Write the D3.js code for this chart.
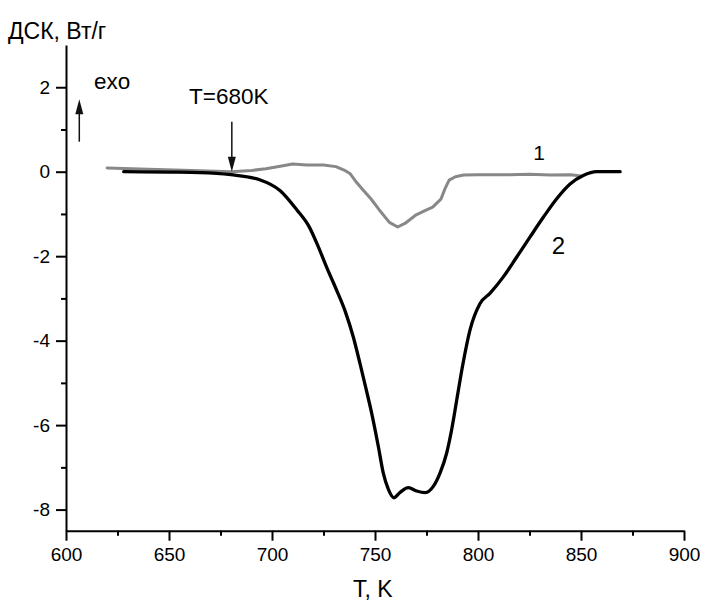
<!DOCTYPE html>
<html><head><meta charset="utf-8">
<script src="https://cdn.jsdelivr.net/npm/d3@7"></script>
<style>
html,body{margin:0;padding:0;background:#fff;}
svg{display:block;font-family:"Liberation Sans",Arial,Helvetica,sans-serif;}
</style></head>
<body>
<svg id="c" width="702" height="601"></svg>
<script>
// ---- data ----
const xMajorTicks = [600, 650, 700, 750, 800, 850, 900];
const xMinorTicks = [625, 675, 725, 775, 825, 875];
const yMajorTicks = [-8, -6, -4, -2, 0, 2];
const yMinorTicks = [-7, -5, -3, -1, 1];

const T1 = [620,640,665,680,690,697,704,710,717,725,731,735,738,741,744,748,752,757,761,765,770,774,778,782,784,786,789,793,800,815,825,835,845,850];
const dsc1 = [0.09,0.06,0.02,0.0,0.03,0.07,0.13,0.18,0.16,0.16,0.12,0.04,-0.05,-0.25,-0.42,-0.64,-0.9,-1.2,-1.31,-1.21,-1.02,-0.93,-0.84,-0.65,-0.4,-0.2,-0.12,-0.08,-0.07,-0.07,-0.06,-0.08,-0.07,-0.1];

const T2 = [628,650,665,680,694,704,712,718,722.5,726.5,731.5,735.5,739.5,742.7,745.6,748.4,751.6,754,756.5,759.2,762,766.2,770.2,774.3,778.3,781.6,784.8,787.2,789.7,792.5,796.1,801,805.8,812.3,818.8,825.2,831.7,838.2,844.7,851.1,857.6,869];
const dsc2 = [0.0,-0.01,-0.02,-0.07,-0.19,-0.45,-0.9,-1.3,-1.78,-2.26,-2.82,-3.3,-3.92,-4.54,-5.13,-5.72,-6.5,-7.13,-7.52,-7.72,-7.6,-7.48,-7.56,-7.6,-7.45,-7.13,-6.66,-6.11,-5.4,-4.6,-3.75,-3.12,-2.88,-2.49,-2.02,-1.55,-1.08,-0.64,-0.29,-0.09,0.0,0.0];

// ---- layout ----
const svg = d3.select("#c");
const x = d3.scaleLinear().domain([600, 900]).range([66, 684]);
const y = d3.scaleLinear().domain([-8.5, 3]).range([530.7, 45]);
const fmt = d => String(d);

// axes
const gx = svg.append("g").attr("transform", `translate(0,${y(-8.5)})`);
gx.call(d3.axisBottom(x).tickValues(xMajorTicks).tickSize(10).tickSizeOuter(0).tickPadding(7).tickFormat(fmt));
const gxm = svg.append("g").attr("transform", `translate(0,${y(-8.5)})`);
gxm.call(d3.axisBottom(x).tickValues(xMinorTicks).tickSize(5).tickSizeOuter(0).tickFormat(""));
gxm.select(".domain").remove();

const gy = svg.append("g").attr("transform", `translate(${x(600)},0)`);
gy.call(d3.axisLeft(y).tickValues(yMajorTicks).tickSize(10).tickSizeOuter(0).tickPadding(6).tickFormat(fmt));
const gym = svg.append("g").attr("transform", `translate(${x(600)},0)`);
gym.call(d3.axisLeft(y).tickValues(yMinorTicks).tickSize(5).tickSizeOuter(0).tickFormat(""));
gym.select(".domain").remove();

svg.selectAll(".domain, .tick line").attr("stroke", "#000").attr("stroke-width", 2);
svg.selectAll(".tick text").attr("font-size", 19).attr("fill", "#000")
   .attr("font-family", '"Liberation Sans",Arial,sans-serif');

// curves
const line1 = d3.line().x((d,i) => x(T1[i])).y((d,i) => y(dsc1[i])).curve(d3.curveLinear);
svg.append("path").datum(dsc1).attr("d", line1).attr("fill","none")
   .attr("stroke","#888").attr("stroke-width",3).attr("stroke-linejoin","round").attr("stroke-linecap","round");

const line2 = d3.line().x((d,i) => x(T2[i])).y((d,i) => y(dsc2[i])).curve(d3.curveMonotoneX);
svg.append("path").datum(dsc2).attr("d", line2).attr("fill","none")
   .attr("stroke","#000").attr("stroke-width",3.3).attr("stroke-linejoin","round").attr("stroke-linecap","round");

// arrows
function arrow(x0, y0, y1){
  svg.append("line").attr("x1",x0).attr("x2",x0).attr("y1",y0).attr("y2",y1 + (y1>y0?-12:12))
     .attr("stroke","#111").attr("stroke-width",1.5);
  const dir = y1>y0?-1:1;
  svg.append("path").attr("d", `M${x0},${y1} L${x0-4},${y1+dir*15} L${x0+4},${y1+dir*15} Z`).attr("fill","#111");
}
arrow(79.3, 141.7, 99.3);
arrow(x(680.5), 121.7, y(0));

// texts
svg.append("text").attr("x", 8).attr("y", 39).attr("font-size", 23).text("ДСК, Вт/г");
svg.append("text").attr("x", 353).attr("y", 597).attr("font-size", 23).text("T, K");
svg.append("text").attr("x", 94).attr("y", 89).attr("font-size", 22.5).text("exo");
svg.append("text").attr("x", 189).attr("y", 103.5).attr("font-size", 22.5).text("T=680K");
svg.append("text").attr("x", 539).attr("y", 160).attr("font-size", 21).attr("text-anchor","middle").text("1");
svg.append("text").attr("x", 558.5).attr("y", 254).attr("font-size", 24).attr("text-anchor","middle").text("2");
</script>
</body></html>
